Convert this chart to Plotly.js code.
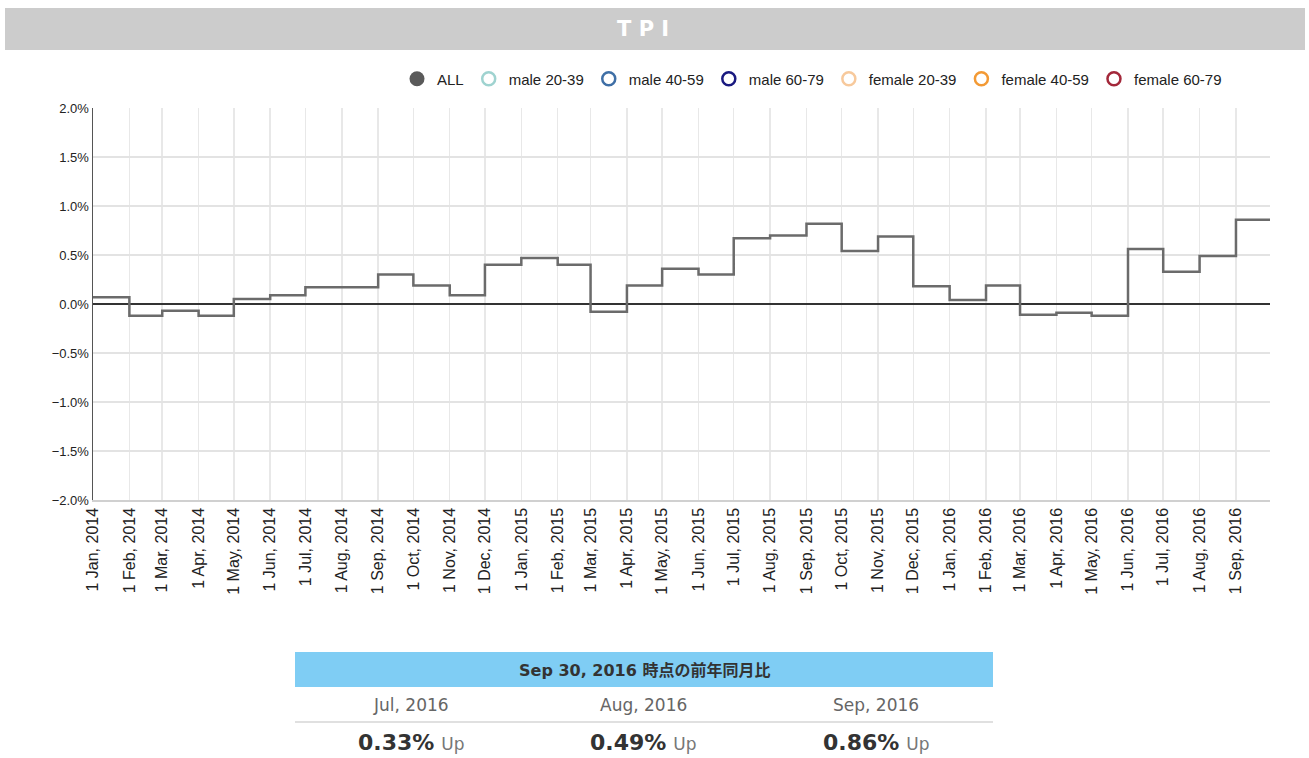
<!DOCTYPE html>
<html>
<head>
<meta charset="utf-8">
<script src="https://cdn.plot.ly/plotly-3.0.1.min.js"></script>
<style>
  body { margin: 0; background: #fff; }
  #tpiChartDiv { width: 1309px; height: 758px; }
</style>
</head>
<body>
<div id="tpiChartDiv"></div>
<script>
"use strict";

// monthly TPI (year-on-year %), one value per month start
var tpiMonths = [
    "2014-01-01", "2014-02-01", "2014-03-01", "2014-04-01", "2014-05-01", "2014-06-01",
    "2014-07-01", "2014-08-01", "2014-09-01", "2014-10-01", "2014-11-01", "2014-12-01",
    "2015-01-01", "2015-02-01", "2015-03-01", "2015-04-01", "2015-05-01", "2015-06-01",
    "2015-07-01", "2015-08-01", "2015-09-01", "2015-10-01", "2015-11-01", "2015-12-01",
    "2016-01-01", "2016-02-01", "2016-03-01", "2016-04-01", "2016-05-01", "2016-06-01",
    "2016-07-01", "2016-08-01", "2016-09-01", "2016-09-30"
];
var tpiAllValues = [
    0.07, -0.12, -0.07, -0.12, 0.05, 0.09,
    0.17, 0.17, 0.30, 0.19, 0.09, 0.40,
    0.47, 0.40, -0.08, 0.19, 0.36, 0.30,
    0.67, 0.70, 0.82, 0.54, 0.69, 0.18,
    0.04, 0.19, -0.11, -0.09, -0.12, 0.56,
    0.33, 0.49, 0.86, 0.86
];

var legendNames = ["male 20-39", "male 40-59", "male 60-79", "female 20-39", "female 40-59", "female 60-79"];
var legendColors = ["#9fd3d0", "#3f6fa6", "#1a1a80", "#f7c99c", "#f39a35", "#a3283a"];

var summaryTitle = "Sep 30, 2016 時点の前年同月比";
var summaryMonths = ["Jul, 2016", "Aug, 2016", "Sep, 2016"];
var summaryValues = ["0.33%", "0.49%", "0.86%"];
var summaryWords = ["Up", "Up", "Up"];

// plot box in page pixels
const plotLeft = 93, plotRight = 1270, plotTop = 108, plotBottom = 500;
const plotW = plotRight - plotLeft, plotH = plotBottom - plotTop;
function paperX(px) { return (px - plotLeft) / plotW; }
function paperY(py) { return (plotBottom - py) / plotH; }

const axisFont = "'Liberation Sans', Arial, sans-serif";
const tableFont = "'DejaVu Sans', 'Noto Sans CJK JP', sans-serif";

var traces = [
    {
        x: tpiMonths,
        y: tpiAllValues,
        type: 'scatter',
        mode: 'lines',
        line: { shape: 'hv', color: '#6b6b6b', width: 2.5 },
        showlegend: false,
        hoverinfo: 'x+y'
    },
    {
        x: [null], y: [null],
        type: 'scatter', mode: 'markers', name: 'ALL',
        marker: { symbol: 'circle', size: 15, color: '#5a5a5a' }
    }
];
legendNames.forEach(function (name, i) {
    traces.push({
        x: [null], y: [null],
        type: 'scatter', mode: 'markers', name: name,
        marker: { symbol: 'circle-open', size: 13, color: legendColors[i], line: { width: 2.5, color: legendColors[i] } }
    });
});

var shapes = [
    { type: 'rect', xref: 'paper', yref: 'paper', x0: paperX(5), x1: paperX(1305), y0: paperY(50), y1: paperY(8),
      fillcolor: '#cccccc', line: { width: 0 }, layer: 'below' },
    { type: 'rect', xref: 'paper', yref: 'paper', x0: paperX(295), x1: paperX(993), y0: paperY(687), y1: paperY(652),
      fillcolor: '#7fcdf4', line: { width: 0 } },
    { type: 'line', xref: 'paper', yref: 'paper', x0: paperX(295), x1: paperX(993), y0: paperY(722), y1: paperY(722),
      line: { color: '#d6d6d6', width: 1.5 } }
];

var annotations = [
    { text: '<b>T P I</b>', xref: 'paper', yref: 'paper', x: paperX(643), y: paperY(29), showarrow: false,
      xanchor: 'center', yanchor: 'middle', font: { family: 'DejaVu Sans, sans-serif', size: 21, color: '#ffffff' } },
    { text: '<b>' + summaryTitle + '</b>', xref: 'paper', yref: 'paper', x: paperX(644), y: paperY(670), showarrow: false,
      xanchor: 'center', yanchor: 'middle', font: { family: tableFont, size: 16, color: '#333333' } }
];
var colCenters = [411, 643, 876];
summaryMonths.forEach(function (m, i) {
    annotations.push({
        text: m, xref: 'paper', yref: 'paper', x: paperX(colCenters[i]), y: paperY(705), showarrow: false,
        xanchor: 'center', yanchor: 'middle', font: { family: tableFont, size: 17, color: '#666666' }
    });
    annotations.push({
        text: '<b>' + summaryValues[i] + '</b> <span style="font-size:17px;color:#777777">' + summaryWords[i] + '</span>',
        xref: 'paper', yref: 'paper', x: paperX(colCenters[i]), y: paperY(742), showarrow: false,
        xanchor: 'center', yanchor: 'middle', font: { family: tableFont, size: 22, color: '#333333' }
    });
});

var layout = {
    width: 1309,
    height: 758,
    margin: { l: plotLeft, r: 1309 - plotRight, t: plotTop, b: 758 - plotBottom },
    paper_bgcolor: '#ffffff',
    plot_bgcolor: '#ffffff',
    font: { family: axisFont, size: 14, color: '#222222' },
    showlegend: true,
    legend: {
        orientation: 'h',
        x: paperX(812), xanchor: 'center',
        y: paperY(79), yanchor: 'middle',
        itemwidth: 30,
        font: { family: axisFont, size: 15, color: '#222222' },
        bgcolor: 'rgba(0,0,0,0)',
        itemclick: false
    },
    xaxis: {
        type: 'date',
        range: ['2014-01-01', '2016-09-30'],
        tick0: '2014-01-01',
        dtick: 'M1',
        tickformat: '%-d %b, %Y',
        tickangle: -90,
        ticks: '',
        showgrid: true,
        gridcolor: '#e8e8e8',
        gridwidth: 1.5,
        showline: true,
        linecolor: '#d0d0d0',
        linewidth: 1.5,
        zeroline: false,
        tickfont: { family: axisFont, size: 16, color: '#222222' }
    },
    yaxis: {
        range: [-2, 2],
        dtick: 0.5,
        tickformat: '.1f',
        ticksuffix: '%',
        ticks: '',
        showgrid: true,
        gridcolor: '#e3e3e3',
        gridwidth: 1.5,
        showline: true,
        linecolor: '#555555',
        linewidth: 1.5,
        zeroline: true,
        zerolinecolor: '#333333',
        zerolinewidth: 1.5,
        tickfont: { family: axisFont, size: 13, color: '#222222' }
    },
    shapes: shapes,
    annotations: annotations
};

Plotly.newPlot('tpiChartDiv', traces, layout, { displayModeBar: false, staticPlot: true });
</script>
</body>
</html>
